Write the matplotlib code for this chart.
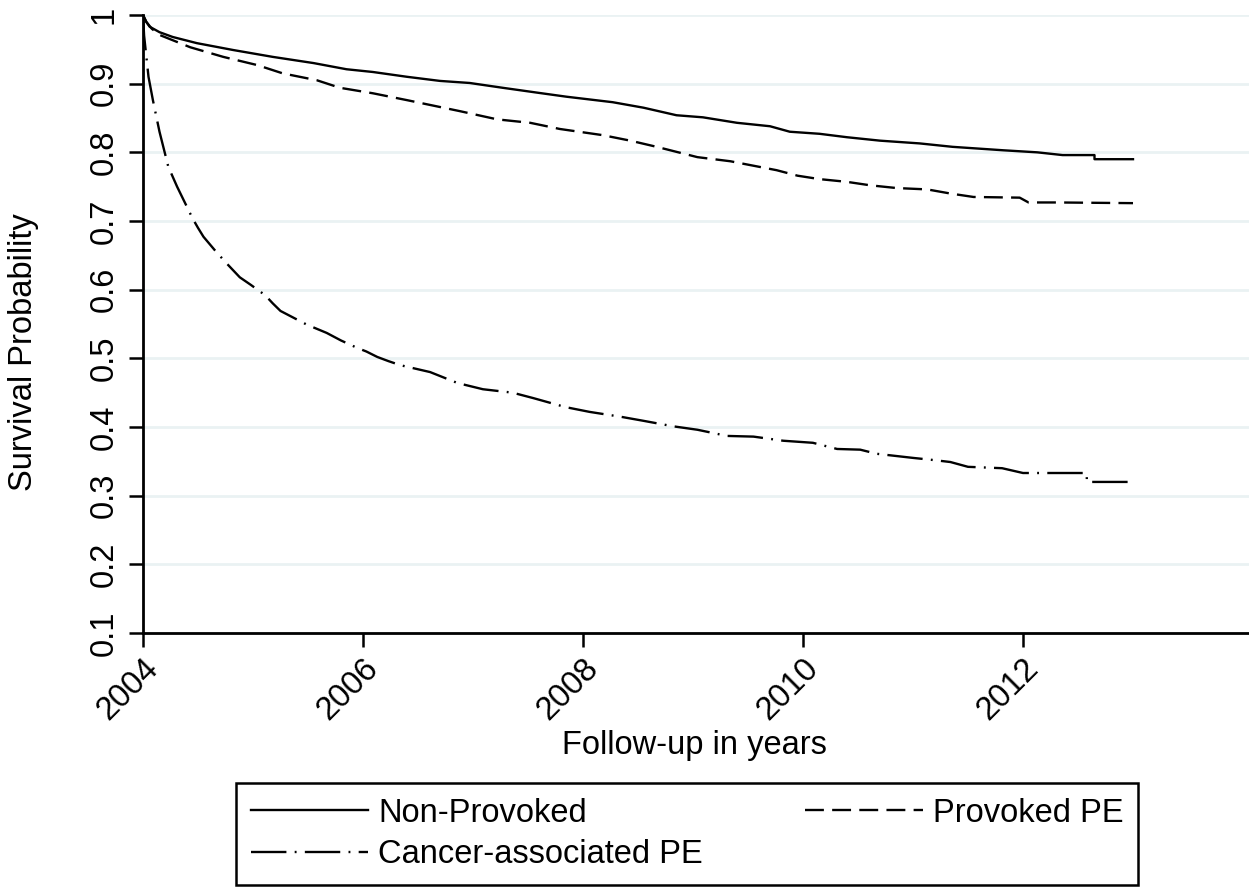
import numpy as np
import matplotlib
matplotlib.use("Agg")
import matplotlib.pyplot as plt

plt.rcParams['font.family'] = ['Liberation Sans', 'DejaVu Sans']

# Kaplan-Meier style survival
t_nonprov = [2004.0, 2004.03, 2004.06, 2004.15, 2004.27, 2004.49, 2004.82, 2005.18, 2005.55, 2005.85,
             2006.09, 2006.4, 2006.7, 2006.97, 2007.27, 2007.58, 2007.85, 2008.27, 2008.55, 2008.85,
             2009.09, 2009.4, 2009.7, 2009.88, 2010.15, 2010.4, 2010.7, 2011.06, 2011.36, 2011.82,
             2012.13, 2012.36, 2012.65, 2012.65, 2013.0]
s_nonprov = [1.0, 0.99, 0.983, 0.975, 0.968, 0.959, 0.949, 0.939, 0.930, 0.921,
             0.917, 0.910, 0.904, 0.901, 0.894, 0.887, 0.881, 0.873, 0.865, 0.854,
             0.851, 0.843, 0.838, 0.830, 0.827, 0.822, 0.817, 0.813, 0.808, 0.803,
             0.800, 0.796, 0.796, 0.790, 0.790]

t_prov = [2004.0, 2004.03, 2004.08, 2004.15, 2004.43, 2004.73, 2005.04, 2005.27, 2005.58, 2005.79,
          2006.09, 2006.4, 2006.7, 2006.88, 2007.22, 2007.52, 2007.79, 2008.18, 2008.43, 2008.67,
          2009.04, 2009.34, 2009.76, 2009.95, 2010.15, 2010.4, 2010.61, 2010.85, 2011.13, 2011.34,
          2011.55, 2011.97, 2012.05, 2012.31, 2013.0]
s_prov = [1.0, 0.99, 0.98, 0.971, 0.953, 0.939, 0.927, 0.915, 0.905, 0.894,
          0.886, 0.876, 0.866, 0.860, 0.848, 0.843, 0.834, 0.825, 0.817, 0.808,
          0.793, 0.787, 0.774, 0.766, 0.761, 0.757, 0.752, 0.748, 0.746, 0.740,
          0.735, 0.734, 0.727, 0.727, 0.726]

t_cancer = [2004.0, 2004.01, 2004.03, 2004.05, 2004.09, 2004.15, 2004.23, 2004.31, 2004.38, 2004.45,
            2004.5, 2004.55, 2004.65, 2004.75, 2004.88, 2004.98, 2005.11, 2005.18, 2005.25, 2005.37,
            2005.49, 2005.58, 2005.67, 2005.8, 2005.95, 2006.03, 2006.13, 2006.23, 2006.34, 2006.61,
            2006.86, 2007.09, 2007.36, 2007.55, 2007.84, 2008.06, 2008.34, 2008.55, 2008.82, 2009.04,
            2009.31, 2009.55, 2009.82, 2010.09, 2010.31, 2010.52, 2010.67, 2011.0, 2011.18, 2011.34,
            2011.5, 2011.81, 2012.0, 2012.58, 2012.58, 2013.0]
s_cancer = [1.0, 0.97, 0.94, 0.91, 0.876, 0.830, 0.779, 0.750, 0.727, 0.704,
            0.690, 0.677, 0.658, 0.640, 0.618, 0.607, 0.592, 0.580, 0.569, 0.559,
            0.549, 0.543, 0.537, 0.526, 0.515, 0.510, 0.502, 0.496, 0.490, 0.480,
            0.464, 0.455, 0.450, 0.442, 0.429, 0.422, 0.415, 0.409, 0.401, 0.396,
            0.387, 0.386, 0.380, 0.377, 0.368, 0.367, 0.361, 0.355, 0.352, 0.349,
            0.342, 0.340, 0.333, 0.333, 0.320, 0.320]

labels = ['Non-Provoked', 'Provoked PE', 'Cancer-associated PE']
yticks = np.arange(0.1, 1.01, 0.1)
ytick_labels = ['0.1', '0.2', '0.3', '0.4', '0.5', '0.6', '0.7', '0.8', '0.9', '1']
xticks = [2004, 2006, 2008, 2010, 2012]

fs = 23.5
fig = plt.figure(figsize=(12.49, 8.88), dpi=100)
ax = fig.add_axes([143/1249, 1-633/888, (1249-143)/1249, (633-15)/888])

lw = 1.7
l1, = ax.plot(t_nonprov, s_nonprov, color='black', lw=lw, linestyle='-')
l3, = ax.plot(t_cancer, s_cancer, color='black', lw=lw,
              linestyle=(0, (15, 3.5, 0.8, 3.5)))
l2, = ax.plot(t_prov, s_prov, color='black', lw=lw,
              linestyle=(0, (8, 3.5)))

ax.set_xlim(2004, 2004 + (1249-143)/110)
ax.set_ylim(0.1, 1.0)
ax.set_yticks(yticks)
ax.set_yticklabels(ytick_labels, rotation=90, va='center', fontsize=fs)
ax.set_xticks(xticks)
ax.set_xticklabels([str(x) for x in xticks], rotation=45, ha='right',
                   rotation_mode='anchor', fontsize=fs)
ax.tick_params(axis='both', length=10, width=1.8, direction='out', color='black')
ax.tick_params(axis='y', pad=7)
ax.tick_params(axis='x', pad=4)

ax.grid(axis='y', color='#eaf2f3', lw=2)
ax.set_axisbelow(True)
for s in ['top', 'right']:
    ax.spines[s].set_visible(False)
for s in ['left', 'bottom']:
    ax.spines[s].set_linewidth(2)
    ax.spines[s].set_color('black')

ax.set_ylabel('Survival Probability', fontsize=fs)
ax.yaxis.set_label_coords(-0.094, 0.455)
ax.set_xlabel('Follow-up in years', fontsize=fs, va='top')
ax.xaxis.set_label_coords(0.499, -0.157)

# matplotlib fills the legend column by column
leg = fig.legend([l1, l3, l2], [labels[0], labels[2], labels[1]], ncol=2, loc='upper left',
                 bbox_to_anchor=(236/1249, 1-792/888, (1138-236)/1249, 0.01),
                 mode='expand', fontsize=fs, frameon=True, fancybox=False,
                 edgecolor='black', framealpha=1, borderpad=0.45,
                 handlelength=3.6, handletextpad=0.3, labelspacing=0.32,
                 borderaxespad=0)
leg.get_frame().set_linewidth(1.8)

fig.savefig('out.png', dpi=100)
